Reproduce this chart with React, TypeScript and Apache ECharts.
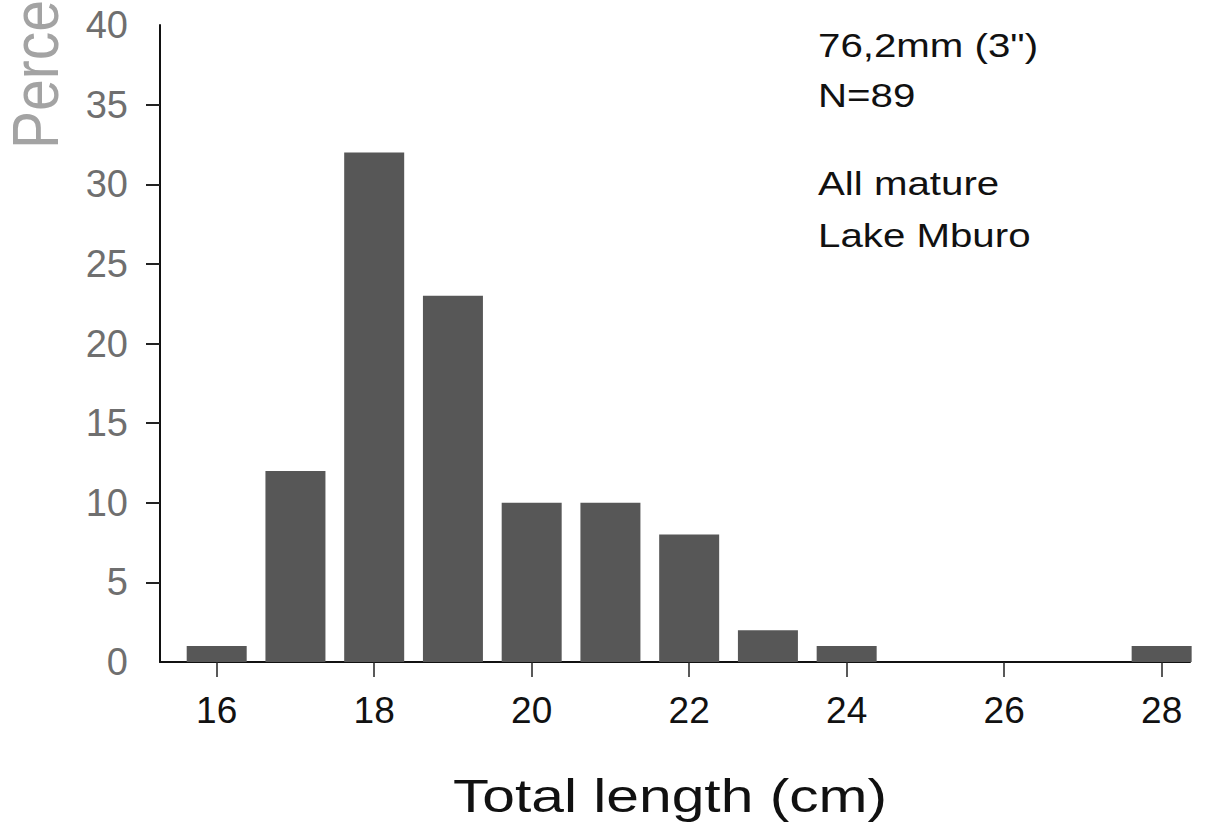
import React, { useEffect, useRef } from "react";
import * as echarts from "echarts";

const lengths = [16, 17, 18, 19, 20, 21, 22, 23, 24, 25, 26, 27, 28];
const percents = [1, 12, 32, 23, 10, 10, 8, 2, 1, 0, 0, 0, 1];
const xTickValues = [16, 18, 20, 22, 24, 26, 28];
const yTickValues = [5, 10, 15, 20, 25, 30, 35];
const notes = ["76,2mm (3\")", "N=89", "All mature", "Lake Mburo"];
const xTitle = "Total length (cm)";
const yTitle = "Percent";

const FONT = '"Liberation Sans", Arial, Helvetica, sans-serif';

export default function App() {
  const ref = useRef<HTMLDivElement>(null);
  useEffect(() => {
    if (!ref.current) return;
    const chart = echarts.init(ref.current, null, { renderer: "svg" });
    const noteY = [46, 96, 184, 236];
    chart.setOption({
      animation: false,
      backgroundColor: "#ffffff",
      grid: { left: 160, right: 19, top: 25, bottom: 171, containLabel: false },
      xAxis: {
        type: "value",
        min: 15.28,
        max: 28.36,
        splitLine: { show: false },
        axisLine: { show: true, lineStyle: { color: "#111", width: 2 } },
        axisTick: {
          show: true,
          inside: false,
          length: 15,
          customValues: xTickValues,
          lineStyle: { color: "#222", width: 1.5 },
        },
        axisLabel: {
          customValues: xTickValues,
          margin: 30,
          fontSize: 37,
          color: "#111",
          fontFamily: FONT,
        },
      },
      yAxis: {
        type: "value",
        min: 0,
        max: 40,
        interval: 5,
        splitLine: { show: false },
        axisLine: { show: true, lineStyle: { color: "#111", width: 2 } },
        axisTick: {
          show: true,
          inside: false,
          length: 14,
          customValues: yTickValues,
          lineStyle: { color: "#222", width: 2 },
        },
        axisLabel: {
          margin: 32,
          fontSize: 38,
          color: "#6f6f6f",
          fontFamily: FONT,
        },
      },
      series: [
        {
          type: "bar",
          barWidth: 60,
          itemStyle: { color: "#575757" },
          data: lengths.map((l, i) => [l, percents[i]]),
        },
      ],
      graphic: [
        ...notes.map((t, i) => ({
          type: "text",
          x: 818,
          y: noteY[i],
          scaleX: 1.22,
          style: {
            text: t,
            fontSize: 33,
            fontFamily: FONT,
            fill: "#111",
            textAlign: "left",
            textVerticalAlign: "middle",
          },
        })),
        {
          type: "text",
          x: 670,
          y: 796,
          scaleX: 1.25,
          style: {
            text: xTitle,
            fontSize: 47,
            fontFamily: FONT,
            fill: "#111",
            textAlign: "center",
            textVerticalAlign: "middle",
          },
        },
        {
          type: "text",
          x: 36,
          y: 149,
          rotation: Math.PI / 2,
          scaleY: 1.14,
          style: {
            text: yTitle,
            fontSize: 57,
            fontFamily: FONT,
            fill: "#a3a3a3",
            textAlign: "left",
            textVerticalAlign: "middle",
          },
        },
      ],
    });
    return () => chart.dispose();
  }, []);
  return (
    <div
      ref={ref}
      style={{ position: "fixed", left: 0, top: 0, width: 1209, height: 833 }}
    />
  );
}
